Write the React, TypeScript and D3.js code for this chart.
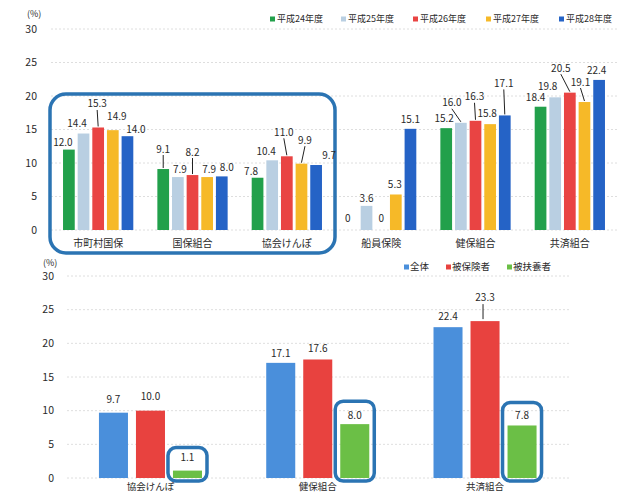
import React from "react";
import * as d3 from "d3";

// ---------- Top chart data ----------
const topCategories = ["市町村国保", "国保組合", "協会けんぽ", "船員保険", "健保組合", "共済組合"];
const topSeries = ["平成24年度", "平成25年度", "平成26年度", "平成27年度", "平成28年度"];
const h24 = [12.0, 9.1, 7.8, 0, 15.2, 18.4];
const h25 = [14.4, 7.9, 10.4, 3.6, 16.0, 19.8];
const h26 = [15.3, 8.2, 11.0, 0, 16.3, 20.5];
const h27 = [14.9, 7.9, 9.9, 5.3, 15.8, 19.1];
const h28 = [14.0, 8.0, 9.7, 15.1, 17.1, 22.4];
const topValues = [h24, h25, h26, h27, h28];
const topColors = ["#22a04b", "#b9cfe2", "#e94443", "#f6b928", "#2563c6"];
const yTicks = [0, 5, 10, 15, 20, 25, 30];

// label nudges (layout) for top chart: [dx, dy, leader]
const topLabelLayout: [number, number, boolean][][] = [
  [[-6, -7, false], [-6.5, -10.5, false], [-1, -23.5, true], [4, -14, false], [8.5, -7, false]],
  [[0, -20, true], [2, -8, false], [0, -23, true], [2, -8, false], [5, -8.5, false]],
  [[-6.5, -6.5, false], [-6, -8.5, false], [-3, -24, true], [3.5, -23.5, true], [13, -10, false]],
  [[-4, -12, false], [0, -7, false], [0, -12, false], [-1, -9.5, false], [0, -9, false]],
  [[-2, -10, false], [-9, -20, true], [-1, -24, true], [-3, -11, false], [-1, -32, true]],
  [[-5, -9, false], [-7.5, -11, false], [-9, -24.5, true], [-4, -20, true], [-2.5, -9, false]],
];

// ---------- Bottom chart data ----------
const botCategories = ["協会けんぽ", "健保組合", "共済組合"];
const botSeries = ["全体", "被保険者", "被扶養者"];
const zentai = [9.7, 17.1, 22.4];
const hihokensha = [10.0, 17.6, 23.3];
const hifuyosha = [1.1, 8.0, 7.8];
const botValues = [zentai, hihokensha, hifuyosha];
const botColors = ["#4a8fdb", "#e8423f", "#6bbf46"];
const botLabelLayout: [number, number, boolean][][] = [
  [[0, -13, false], [0, -14, false], [0, -13.5, false]],
  [[0, -9, false], [0, -10.5, false], [0, -9, false]],
  [[0, -11, false], [0, -24, true], [0, -9.5, false]],
];

const FONT = "'Noto Sans CJK JP', 'Noto Sans', sans-serif";
const TEXT = "#2a2a2a";
const BOX = "#2b74b3";
const fmt = (v: number) => (v === 0 ? "0" : v.toFixed(1));

export default function App() {
  const x0 = d3.scaleBand<string>().domain(topCategories).range([51, 617]).paddingInner(0.255).paddingOuter(0.1275);
  const x1 = d3.scaleBand<string>().domain(topSeries).range([0, x0.bandwidth()]).paddingInner(0.2);
  const yT = d3.scaleLinear().domain([0, 30]).range([230, 29]);

  const b0 = d3.scaleBand<string>().domain(botCategories).range([67, 568.5]).paddingInner(0.384).paddingOuter(0.191);
  const b1 = d3.scaleBand<string>().domain(botSeries).range([0, b0.bandwidth()]).paddingInner(0.216);
  const yB = d3.scaleLinear().domain([0, 30]).range([478, 276]);

  const topLegendX = [270, 341, 413, 486, 559];
  const botLegendX = [404, 446, 507];

  return (
    <svg width={619} height={494} style={{ position: "absolute", left: 0, top: 0, background: "#fff" }} fontFamily={FONT}>
      <rect x={0} y={0} width={619} height={494} fill="#fff" />
      {/* ---------- TOP CHART ---------- */}
      <text x={27} y={17} fontSize={9} fill={TEXT}>(%)</text>
      {yTicks.map((t) => (
        <g key={"tg" + t}>
          <line x1={51} x2={617} y1={yT(t)} y2={yT(t)} stroke="#d6d6d6" strokeWidth={0.8} strokeDasharray="2,2" />
          <text x={37} y={yT(t)} dy="0.35em" fontSize={10.5} fill={TEXT} textAnchor="end">{t}</text>
        </g>
      ))}
      {topSeries.map((s, i) => (
        <g key={"tl" + s}>
          <rect x={topLegendX[i]} y={16.5} width={5} height={5} fill={topColors[i]} />
          <text x={topLegendX[i] + 7} y={19} dy="0.35em" fontSize={9} fill={TEXT}>{s}</text>
        </g>
      ))}
      {topCategories.map((c, ci) => (
        <g key={"tc" + c} transform={`translate(${x0(c)},0)`}>
          {topSeries.map((s, si) => {
            const v = topValues[si][ci];
            return (
              <rect key={s} x={x1(s)!} y={yT(v)} width={x1.bandwidth()} height={yT(0) - yT(v)} fill={topColors[si]} />
            );
          })}
        </g>
      ))}
      <rect x={50} y={94} width={285} height={159} rx={16} ry={16} fill="none" stroke={BOX} strokeWidth={3.5} />
      {topCategories.map((c, ci) =>
        topSeries.map((s, si) => {
          const v = topValues[si][ci];
          const bx = x0(c)! + x1(s)! + x1.bandwidth() / 2;
          const by = yT(v);
          const [dx, dy, leader] = topLabelLayout[ci][si];
          const cx = bx + dx;
          const cy = by + dy;
          return (
            <g key={"tv" + ci + "-" + si}>
              {leader && <line x1={cx} y1={cy + 6} x2={bx} y2={by - 1} stroke="#222" strokeWidth={1} />}
              <text x={cx} y={cy} dy="0.35em" fontSize={10} fill={TEXT} textAnchor="middle">{fmt(v)}</text>
            </g>
          );
        })
      )}
      {topCategories.map((c) => (
        <text key={"tx" + c} x={x0(c)! + x0.bandwidth() / 2} y={243} dy="0.35em" fontSize={10} fill={TEXT} textAnchor="middle">{c}</text>
      ))}

      {/* ---------- BOTTOM CHART ---------- */}
      <text x={43} y={266} fontSize={9} fill={TEXT}>(%)</text>
      {yTicks.map((t) => (
        <g key={"bg" + t}>
          <line x1={67} x2={570} y1={yB(t)} y2={yB(t)} stroke="#d6d6d6" strokeWidth={0.8} strokeDasharray="2,2" />
          <text x={54} y={yB(t)} dy="0.35em" fontSize={10.5} fill={TEXT} textAnchor="end">{t}</text>
        </g>
      ))}
      {botSeries.map((s, i) => (
        <g key={"bl" + s}>
          <rect x={botLegendX[i]} y={264.5} width={5} height={5} fill={botColors[i]} />
          <text x={botLegendX[i] + 6} y={267} dy="0.35em" fontSize={9.5} fill={TEXT}>{s}</text>
        </g>
      ))}
      {botCategories.map((c, ci) => (
        <g key={"bc" + c} transform={`translate(${b0(c)},0)`}>
          {botSeries.map((s, si) => {
            const v = botValues[si][ci];
            return (
              <rect key={s} x={b1(s)!} y={yB(v)} width={b1.bandwidth()} height={yB(0) - yB(v)} fill={botColors[si]} />
            );
          })}
        </g>
      ))}
      {botCategories.map((c, ci) => {
        const s = botSeries[2];
        const v = botValues[2][ci];
        const x = b0(c)! + b1(s)! - 5;
        const top = yB(v) - 23;
        return (
          <rect key={"bb" + c} x={x} y={top} width={b1.bandwidth() + 10} height={yB(0) + 3 - top} rx={8} ry={8} fill="none" stroke={BOX} strokeWidth={3.5} />
        );
      })}
      {botCategories.map((c, ci) =>
        botSeries.map((s, si) => {
          const v = botValues[si][ci];
          const bx = b0(c)! + b1(s)! + b1.bandwidth() / 2;
          const by = yB(v);
          const [dx, dy, leader] = botLabelLayout[ci][si];
          const cx = bx + dx;
          const cy = by + dy;
          return (
            <g key={"bv" + ci + "-" + si}>
              {leader && <line x1={cx - 2} y1={cy + 7} x2={cx - 2} y2={by - 2} stroke="#222" strokeWidth={1} />}
              <text x={cx} y={cy} dy="0.35em" fontSize={10} fill={TEXT} textAnchor="middle">{fmt(v)}</text>
            </g>
          );
        })
      )}
      {botCategories.map((c) => (
        <text key={"bx" + c} x={b0(c)! + b0.bandwidth() / 2} y={487} dy="0.35em" fontSize={9.5} fill={TEXT} textAnchor="middle">{c}</text>
      ))}
    </svg>
  );
}
